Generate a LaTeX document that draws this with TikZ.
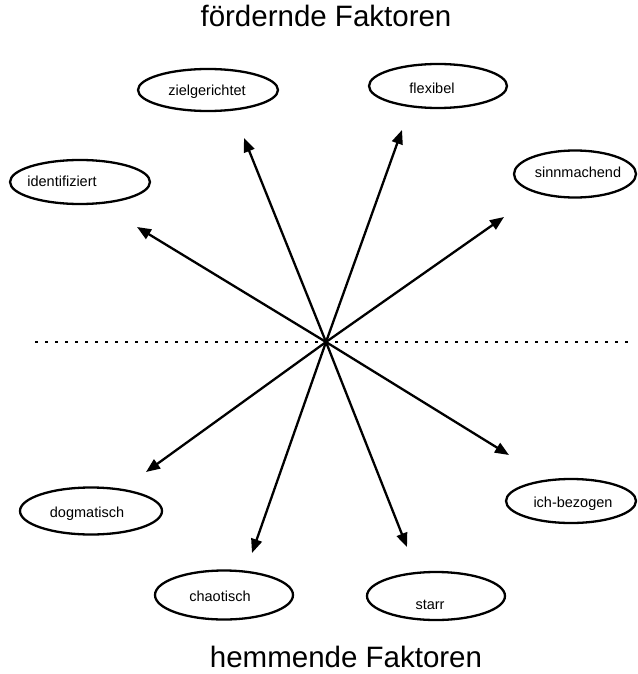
\documentclass[tikz,border=0pt]{standalone}
\usepackage{fontspec}
\setmainfont{Liberation Sans}
\usetikzlibrary{shapes.geometric,arrows.meta}
\begin{document}
\begin{tikzpicture}[x=1pt,y=-1pt,
  oval/.style={draw,ellipse,line width=2.3pt,inner sep=0pt},
  lbl/.style={anchor=base,inner sep=0pt,font=\fontsize{14.5}{17}\selectfont},
  ttl/.style={anchor=base,inner sep=0pt,font=\fontsize{29.5}{34}\selectfont},
  arr/.style={line width=2.3pt,-{Triangle[length=14pt,width=11pt]}},
  dotline/.style={line width=2.5pt,dash pattern=on 2.5pt off 7.5pt}]
\useasboundingbox (0,0) rectangle (637,674);

% titles
\node[ttl] (top) at (326,27) {fördernde Faktoren};
\node[ttl] (bottom) at (346,667) {hemmende Faktoren};

% ellipses
\node[oval,minimum width=140pt,minimum height=42pt] (ez) at (208,90) {};
\node[oval,minimum width=138pt,minimum height=44pt] (ef) at (438,86) {};
\node[oval,minimum width=140pt,minimum height=44pt] (ei) at (80,182) {};
\node[oval,minimum width=122pt,minimum height=47pt] (es) at (575,174) {};
\node[oval,minimum width=142pt,minimum height=47pt] (ed) at (91,511) {};
\node[oval,minimum width=130pt,minimum height=44pt] (eb) at (571,501) {};
\node[oval,minimum width=138pt,minimum height=49pt] (ec) at (224,595) {};
\node[oval,minimum width=138pt,minimum height=48pt] (er) at (436,596) {};

% labels
\node[lbl] (tz) at (207,96) {zielgerichtet};
\node[lbl] (tf) at (432,94) {flexibel};
\node[lbl] (ti) at (62,186) {identifiziert};
\node[lbl] (ts) at (578,177) {sinnmachend};
\node[lbl] (td) at (87,517) {dogmatisch};
\node[lbl] (tb) at (573,507) {ich-bezogen};
\node[lbl] (tc) at (220,601) {chaotisch};
\node[lbl] (tr) at (430,609) {starr};

% dotted divider
\coordinate (dl) at (35,342);
\coordinate (dr) at (628,342);
\draw[dotline] (dl) -- (dr);

% arrows
\coordinate (c) at (326,342);
\coordinate (az) at (244,138);
\coordinate (af) at (402,130);
\coordinate (ai) at (137,227);
\coordinate (as) at (504,217);
\coordinate (ad) at (146,472);
\coordinate (ab) at (509,455);
\coordinate (ac) at (252,553);
\coordinate (ar) at (407,547);
\foreach \t in {az,af,ai,as,ad,ab,ac,ar}
  \draw[arr] (c) -- (\t);
\end{tikzpicture}
\end{document}
